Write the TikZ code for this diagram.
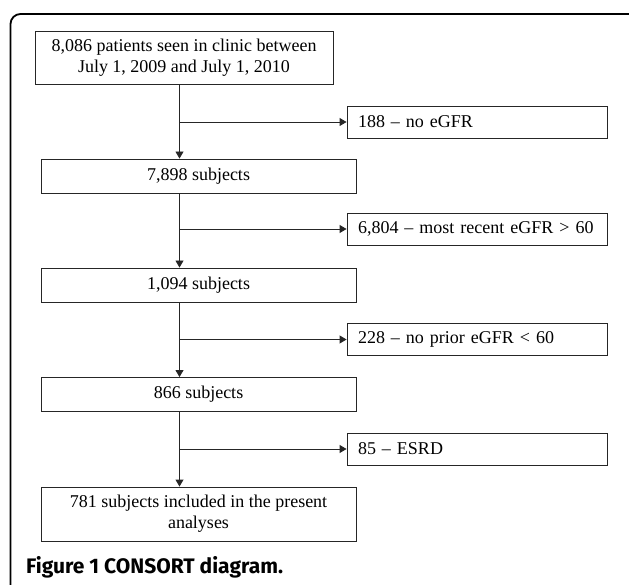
\documentclass[tikz,border=0pt]{standalone}
\usepackage{fontspec}
\setmainfont{Liberation Serif}
\newfontfamily\capfont{Fira Sans}
\usetikzlibrary{positioning}
\usetikzlibrary{arrows.meta}
\tikzset{every node/.style={font=\fontsize{18}{21}\selectfont},
         mainbox/.style={draw=black!85,line width=0.9pt,minimum width=315pt,minimum height=34pt,align=center,inner sep=0pt},
         topbox/.style={mainbox,minimum width=298pt,minimum height=53pt},
         sidebox/.style={draw=black!85,line width=0.9pt,minimum height=32pt,text width=238pt,inner xsep=11pt,inner ysep=0pt,align=left},
         flow/.style={line width=0.9pt,draw=black!85,-{Triangle[length=7pt,width=8pt]}},
         frame/.style={line width=1.8pt,rounded corners=10pt},
         }
\begin{document}
\begin{tikzpicture}[x=1pt,y=-1pt]
\useasboundingbox (0,0) rectangle (629,585);
\clip (0,0) rectangle (629,585);
\draw[frame] (10.5,14) rectangle (640,600);
\coordinate (spine) at (179.5,0);
\node[topbox] (seen) at (184,57.5) {8,086 patients seen in clinic between\\July 1, 2009 and July 1, 2010};
\node[mainbox] (s7898) at (198.5,176) {7,898 subjects};
\node[mainbox] (s1094) at (198.5,285) {1,094 subjects};
\node[mainbox] (s866) at (198.5,394.5) {866 subjects};
\node[mainbox,minimum height=54pt] (s781) at (198.5,514) {781 subjects included in the present\\analyses};
\node[sidebox] (x188) at (477,122) {188 -- no eGFR};
\node[sidebox] (x6804) at (477,229) {6,804 -- most recent eGFR > 60};
\node[sidebox] (x228) at (477,339.5) {228 -- no prior eGFR < 60};
\node[sidebox] (x85) at (477,449) {85 -- ESRD};
\draw[flow] (seen.south -| spine) -- (s7898.north -| spine);
\draw[flow] (s7898.south -| spine) -- (s1094.north -| spine);
\draw[flow] (s1094.south -| spine) -- (s866.north -| spine);
\draw[flow] (s866.south -| spine) -- (s781.north -| spine);
\draw[flow] (x188.west -| spine) -- (x188.west);
\draw[flow] (x6804.west -| spine) -- (x6804.west);
\draw[flow] (x228.west -| spine) -- (x228.west);
\draw[flow] (x85.west -| spine) -- (x85.west);
\node[anchor=base west,font=\capfont\bfseries\fontsize{21}{25}\selectfont,inner sep=0pt] (caption) at (26,573) {Figure 1 CONSORT diagram.};
\end{tikzpicture}
\end{document}
